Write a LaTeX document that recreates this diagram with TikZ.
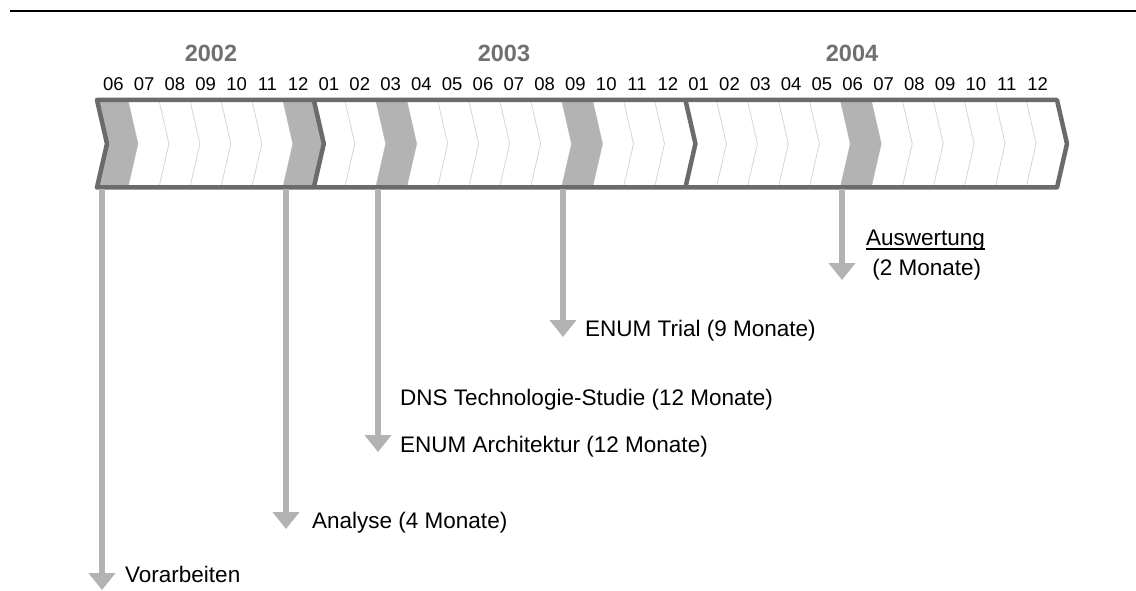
\documentclass[tikz,border=0pt]{standalone}
\usepackage{fontspec}
\setmainfont{Liberation Sans}
\usetikzlibrary{arrows.meta}
\definecolor{barborder}{HTML}{6B6B6B}
\definecolor{hlgray}{HTML}{B3B3B3}
\definecolor{divgray}{HTML}{D6D6D6}
\definecolor{yeargray}{HTML}{707070}
\begin{document}
\begin{tikzpicture}[x=1pt,y=-1pt,
  lbl/.style={anchor=base west, inner sep=0pt, font=\fontsize{22.5}{27}\selectfont},
  mon/.style={anchor=base, inner sep=0pt, font=\fontsize{18.5}{20}\selectfont},
  yr/.style={anchor=base, inner sep=0pt, font=\fontsize{23.5}{28}\selectfont\bfseries, text=yeargray},
  conn/.style={hlgray, line width=6pt, -{Triangle[width=26pt,length=17pt]}},
  divline/.style={divgray, line width=0.8pt},
  yearline/.style={barborder, line width=4.5pt, line join=round},
  barline/.style={barborder, line width=4.5pt, line join=round}]
\useasboundingbox (0,0) rectangle (1136,591);
\def\T{100}\def\B{187.5}\def\M{143.75}\def\W{30.97}\def\D{10}\def\X{97}
% top rule
\coordinate (rl) at (10,11);
\coordinate (rr) at (1136,11);
\draw[line width=2.5pt] (rl) -- (rr);
% bar background
\fill[white] (\X,\T) -- (1057,\T) -- (1067,\M) -- (1057,\B) -- (\X,\B) -- ({\X+\D},\M) -- cycle;
% month dividers
\foreach \i in {1,...,30}
  \draw[divline] ({\X+\i*\W},\T) -- ({\X+\i*\W+\D},\M) -- ({\X+\i*\W},\B);
% highlighted months
\foreach \i in {0,6,9,15,24}
  \fill[hlgray] ({\X+\i*\W},\T) -- ({\X+(\i+1)*\W},\T) -- ({\X+(\i+1)*\W+\D},\M) -- ({\X+(\i+1)*\W},\B) -- ({\X+\i*\W},\B) -- ({\X+\i*\W+\D},\M) -- cycle;
% year boundaries
\foreach \i in {7,19}
  \draw[yearline] ({\X+\i*\W},\T) -- ({\X+\i*\W+\D},\M) -- ({\X+\i*\W},\B);
% outline
\draw[barline] (\X,\T) -- (1057,\T) -- (1067,\M) -- (1057,\B) -- (\X,\B) -- ({\X+\D},\M) -- cycle;
% year labels
\node[yr] (y2002) at (211,62) {2002};
\node[yr] (y2003) at (504,62) {2003};
\node[yr] (y2004) at (852,62) {2004};
% month labels
\foreach \m [count=\k from 0] in {06,07,08,09,10,11,12,01,02,03,04,05,06,07,08,09,10,11,12,01,02,03,04,05,06,07,08,09,10,11,12}
  \node[mon] (m\k) at ({113.3+\k*30.81},91) {\m};
% arrows
\coordinate (a1s) at (102,189.5); \coordinate (a1e) at (102,590);
\coordinate (a2s) at (286,189.5); \coordinate (a2e) at (286,529);
\coordinate (a3s) at (378,189.5); \coordinate (a3e) at (378,452);
\coordinate (a4s) at (563,189.5); \coordinate (a4e) at (563,337);
\coordinate (a5s) at (842,189.5); \coordinate (a5e) at (842,280);
\draw[conn] (a1s) -- (a1e);
\draw[conn] (a2s) -- (a2e);
\draw[conn] (a3s) -- (a3e);
\draw[conn] (a4s) -- (a4e);
\draw[conn] (a5s) -- (a5e);
% labels
\node[lbl] (vor) at (125,582) {Vorarbeiten};
\node[lbl] (ana) at (312,528) {Analyse (4 Monate)};
\node[lbl] (dns) at (400,405) {DNS Technologie-Studie (12 Monate)};
\node[lbl] (arch) at (400,452) {ENUM Architektur (12 Monate)};
\node[lbl] (trial) at (585,336) {ENUM Trial (9 Monate)};
\node[lbl] (ausw) at (866,245) {Auswertung};
\draw[line width=1.3pt] ([yshift=-4pt]ausw.base west) -- ([yshift=-4pt]ausw.base east);
\node[lbl] (ausm) at (866,275) {\ (2 Monate)};
\end{tikzpicture}
\end{document}
